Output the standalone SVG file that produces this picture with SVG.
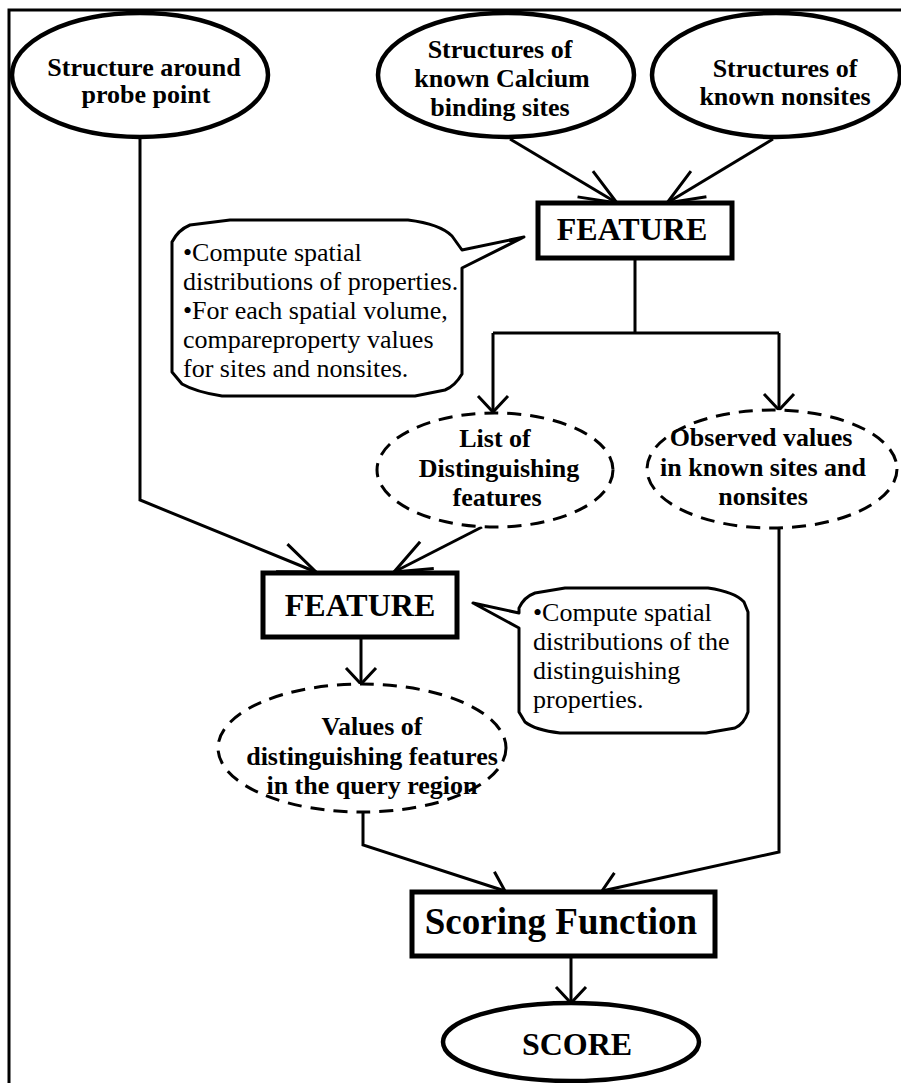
<svg xmlns="http://www.w3.org/2000/svg" width="901" height="1083" viewBox="0 0 901 1083">
<style>
.bg{fill:#fff}
.frame{fill:none;stroke:#000;stroke-width:3}
.ell{fill:#fff;stroke:#000;stroke-width:4.5}
.dash{fill:#fff;stroke:#000;stroke-width:3;stroke-dasharray:14 9}
.box{fill:#fff;stroke:#000;stroke-width:5}
.call{fill:#fff;stroke:#000;stroke-width:3;stroke-linejoin:round}
.conn{fill:none;stroke:#000;stroke-width:3}
.b{font-family:"Liberation Serif","Times New Roman",serif;font-weight:bold;font-size:26px;text-anchor:middle;fill:#000}
.big{font-size:32px}
.sf{font-size:37px}
.r{font-family:"Liberation Serif","Times New Roman",serif;font-size:26px;fill:#000}
</style>
<defs>
<marker id="arrS" markerUnits="userSpaceOnUse" viewBox="-50 -50 100 100" markerWidth="100" markerHeight="100" refX="0" refY="0" orient="auto" overflow="visible">
<path d="M-16,-15 L0,0 L-16,15" fill="none" stroke="#000" stroke-width="3"/>
</marker>
<marker id="arrL" markerUnits="userSpaceOnUse" viewBox="-50 -50 100 100" markerWidth="100" markerHeight="100" refX="0" refY="0" orient="auto" overflow="visible">
<path d="M-37,-15 L0,0 L-37,15" fill="none" stroke="#000" stroke-width="3"/>
</marker>
</defs>
<rect class="bg" x="0" y="0" width="901" height="1083"/>
<path class="frame" d="M9,1083 L9,10 L901,10"/>

<g id="connectors">
<path class="conn" d="M140,137 L140,500 L316,572" marker-end="url(#arrL)"/>
<path class="conn" d="M510,139 L617,203" marker-end="url(#arrL)"/>
<path class="conn" d="M773,139 L667,203" marker-end="url(#arrL)"/>
<path class="conn" d="M635,258 L635,333 M493,333 L779,333"/>
<path class="conn" d="M493,333 L493,412" marker-end="url(#arrS)"/>
<path class="conn" d="M779,333 L779,410" marker-end="url(#arrS)"/>
<path class="conn" d="M482,527 L394,572" marker-end="url(#arrL)"/>
<path class="conn" d="M361,637 L361,684" marker-end="url(#arrS)"/>
<path class="conn" d="M363,812 L363,845 L505,891" marker-end="url(#arrS)"/>
<path class="conn" d="M779,528 L779,852 L602,891" marker-end="url(#arrS)"/>
<path class="conn" d="M571,957 L571,1003" marker-end="url(#arrS)"/>
</g>

<g id="probe">
<ellipse class="ell" cx="140" cy="75" rx="128" ry="62"/>
<text class="b" x="144" y="76">Structure around</text>
<text class="b" x="146" y="103">probe point</text>
</g>

<g id="calcium">
<ellipse class="ell" cx="506" cy="75" rx="128" ry="62"/>
<text class="b" x="500" y="58">Structures of</text>
<text class="b" x="502" y="87">known Calcium</text>
<text class="b" x="500" y="116">binding sites</text>
</g>

<g id="nonsites">
<ellipse class="ell" cx="776" cy="75" rx="124" ry="62"/>
<text class="b" x="785" y="77">Structures of</text>
<text class="b" x="785" y="105">known nonsites</text>
</g>

<g id="feature1">
<rect class="box" x="538" y="203" width="194" height="55"/>
<text class="b big" x="632" y="240">FEATURE</text>
</g>

<g id="callout1">
<path class="call" d="M230,220 L408,220 Q440,224 452,236 L462,250 L524,237 L462,268 L462,374 Q455,386 445,390 L415,396 L222,396 Q196,392 182,384 L172,372 L172,242 Q178,230 190,225 Z"/>
<text class="r" x="183" y="261">•Compute spatial</text>
<text class="r" x="183" y="290">distributions of properties.</text>
<text class="r" x="183" y="319">•For each spatial volume,</text>
<text class="r" x="183" y="348">compareproperty values</text>
<text class="r" x="183" y="377">for sites and nonsites.</text>
</g>

<g id="list">
<ellipse class="dash" cx="495" cy="470" rx="118" ry="57"/>
<text class="b" x="495" y="447">List of</text>
<text class="b" x="499" y="477">Distinguishing</text>
<text class="b" x="497" y="506">features</text>
</g>

<g id="observed">
<ellipse class="dash" cx="772" cy="469" rx="125" ry="59"/>
<text class="b" x="761" y="446">Observed values</text>
<text class="b" x="763" y="476">in known sites and</text>
<text class="b" x="763" y="505">nonsites</text>
</g>

<g id="feature2">
<rect class="box" x="263" y="573" width="194" height="64"/>
<text class="b big" x="360" y="616">FEATURE</text>
</g>

<g id="callout2">
<path class="call" d="M565,588 L708,588 Q735,592 744,602 L748,612 L748,712 Q744,724 735,728 L706,733 L560,733 Q535,730 525,722 L519,712 L519,628 L473,603 L519,613 L519,608 Q524,597 535,593 Z"/>
<text class="r" x="533" y="621">•Compute spatial</text>
<text class="r" x="533" y="650">distributions of the</text>
<text class="r" x="533" y="679">distinguishing</text>
<text class="r" x="533" y="708">properties.</text>
</g>

<g id="values">
<ellipse class="dash" cx="362" cy="748" rx="144" ry="64"/>
<text class="b" x="372" y="735">Values of</text>
<text class="b" x="372" y="765">distinguishing features</text>
<text class="b" x="372" y="794">in the query region</text>
</g>

<g id="scoring">
<rect class="box" x="412" y="892" width="303" height="64"/>
<text class="b sf" x="561" y="934">Scoring Function</text>
</g>

<g id="score">
<ellipse class="ell" cx="571" cy="1042" rx="128" ry="39"/>
<text class="b big" x="577" y="1055">SCORE</text>
</g>
</svg>
